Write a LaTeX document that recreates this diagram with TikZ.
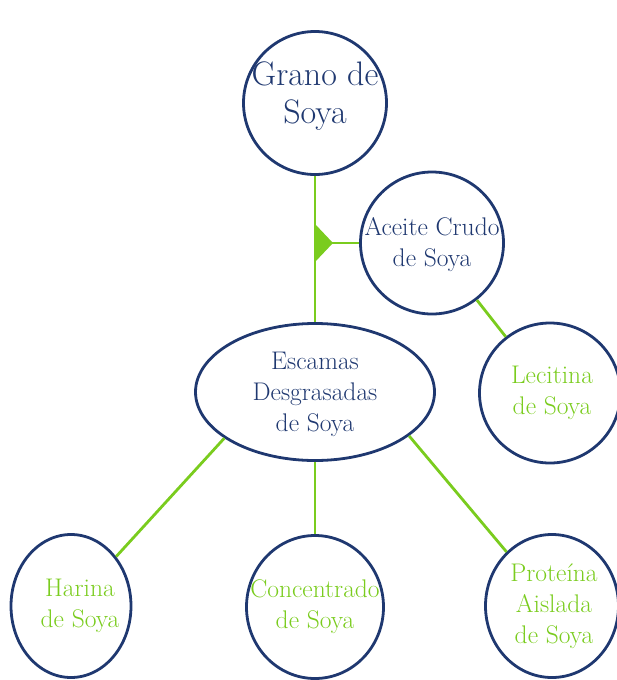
\documentclass[tikz,border=0pt]{standalone}
\usetikzlibrary{shapes.geometric}
\definecolor{navy}{RGB}{31,56,112}
\definecolor{leaf}{RGB}{122,204,30}

\begin{document}
\begin{tikzpicture}[x=1pt, y=-1pt,
    bubble/.style={ellipse, draw=navy, line width=2.8pt, inner sep=0pt},
    link/.style={draw=leaf, line width=2.8pt},
    bigtext/.style={font=\fontsize{34}{38}\selectfont, text=navy, align=center},
    midtext/.style={font=\fontsize{25.5}{31}\selectfont, text=navy, align=center},
    prodtext/.style={midtext, text=leaf}]
  \useasboundingbox (0,0) rectangle (617,680);

  \node[bubble, minimum width=143pt, minimum height=143pt] (grano) at (315,103) {};
  \node[bubble, minimum width=143pt, minimum height=142pt] (aceite) at (432,243) {};
  \node[bubble, minimum width=141pt, minimum height=140pt] (lecitina) at (550,393) {};
  \node[bubble, minimum width=239pt, minimum height=137pt] (escamas) at (315,392) {};
  \node[bubble, minimum width=120pt, minimum height=143pt] (harina) at (71,606) {};
  \node[bubble, minimum width=137pt, minimum height=143pt] (concentrado) at (315,607) {};
  \node[bubble, minimum width=133pt, minimum height=143pt] (proteina) at (552,606) {};

  \node[bigtext] (granot) at ([yshift=7pt]grano.center) {Grano de\\Soya};
  \node[midtext] (aceitet) at ([yshift=-2pt]aceite.center) {Aceite Crudo\\de Soya};
  \node[prodtext] (lecitinat) at ([xshift=2pt]lecitina.center) {Lecitina\\de Soya};
  \node[midtext] (escamast) at ([yshift=-2pt]escamas.center) {Escamas\\Desgrasadas\\de Soya};
  \node[prodtext] (harinat) at ([xshift=9pt]harina.center) {Harina\\de Soya};
  \node[prodtext] (concentradot) at (concentrado.center) {Concentrado\\de Soya};
  \node[prodtext] (proteinat) at ([xshift=2pt]proteina.center) {Proteína\\Aislada\\de Soya};

  \coordinate (junc) at (grano |- aceite);
  \draw[link] (grano) -- (escamas);
  \fill[leaf] ([yshift=19pt]junc) -- ([xshift=18pt]junc) -- ([yshift=-19pt]junc) -- cycle;
  \draw[link] (junc) -- (aceite);
  \draw[link] (aceite) -- (lecitina);
  \draw[link] (escamas.-153) -- (harina);
  \draw[link] (escamas) -- (concentrado);
  \draw[link] (escamas.-25) -- (proteina);
\end{tikzpicture}
\end{document}
